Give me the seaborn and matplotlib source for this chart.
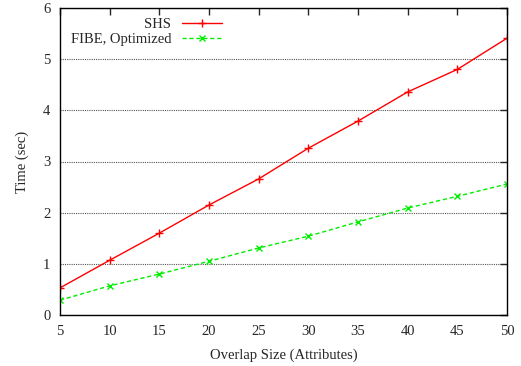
import matplotlib
matplotlib.use("Agg")
import matplotlib.pyplot as plt
import seaborn as sns
import pandas as pd

overlap = [5, 10, 15, 20, 25, 30, 35, 40, 45, 50]
shs = [0.53, 1.07, 1.60, 2.15, 2.66, 3.26, 3.79, 4.36, 4.80, 5.41]
fibe = [0.29, 0.57, 0.80, 1.05, 1.31, 1.54, 1.82, 2.09, 2.32, 2.56]
series_names = ["SHS", "FIBE, Optimized"]

sns.set_style("white")
plt.rcParams['font.family'] = ['Liberation Serif', 'DejaVu Serif']
plt.rcParams['font.size'] = 10.5

df = pd.DataFrame({
    "x": overlap * 2,
    "y": shs + fibe,
    "s": [series_names[0]] * len(overlap) + [series_names[1]] * len(overlap),
})

fig = plt.figure(figsize=(5.21, 3.66), dpi=100)
ax = fig.add_axes([60 / 521, 1 - 315 / 366, 447 / 521, 307 / 366])

sns.lineplot(data=df[df.s == series_names[0]], x="x", y="y", ax=ax, color="#ff0000",
             marker="+", markersize=6, markeredgewidth=1, markeredgecolor="#ff0000",
             linewidth=1, label=series_names[0])
sns.lineplot(data=df[df.s == series_names[1]], x="x", y="y", ax=ax, color="#00ee00",
             marker="x", markersize=4.5, markeredgewidth=1, markeredgecolor="#00ee00",
             linewidth=1, linestyle=(0, (3, 2)), label=series_names[1])

ax.set_xlim(5, 50)
ax.set_ylim(0, 6)
ax.set_xticks(overlap)
ax.set_yticks(range(0, 7))
ax.yaxis.grid(True, linestyle=(0, (1, 1)), color="#555555", linewidth=0.8)
ax.xaxis.grid(False)
ax.tick_params(direction="in", top=True, right=True, length=5, width=1, labelsize=10.5, pad=7)
for sp in ax.spines.values():
    sp.set_color("black")
    sp.set_linewidth(1)
ax.set_xlabel("Overlap Size (Attributes)", fontsize=10.5, labelpad=8)
ax.set_ylabel("Time (sec)", fontsize=10.5, labelpad=10)

leg = ax.legend(loc="upper left", bbox_to_anchor=(-0.005, 1.012), frameon=False,
                markerfirst=False, handlelength=2.75, fontsize=10.5, labelspacing=0.15,
                handletextpad=0.7)
for t in leg.get_texts():
    t.set_ha("right")
leg._legend_box.align = "right"

fig.savefig("out.png", dpi=100)
